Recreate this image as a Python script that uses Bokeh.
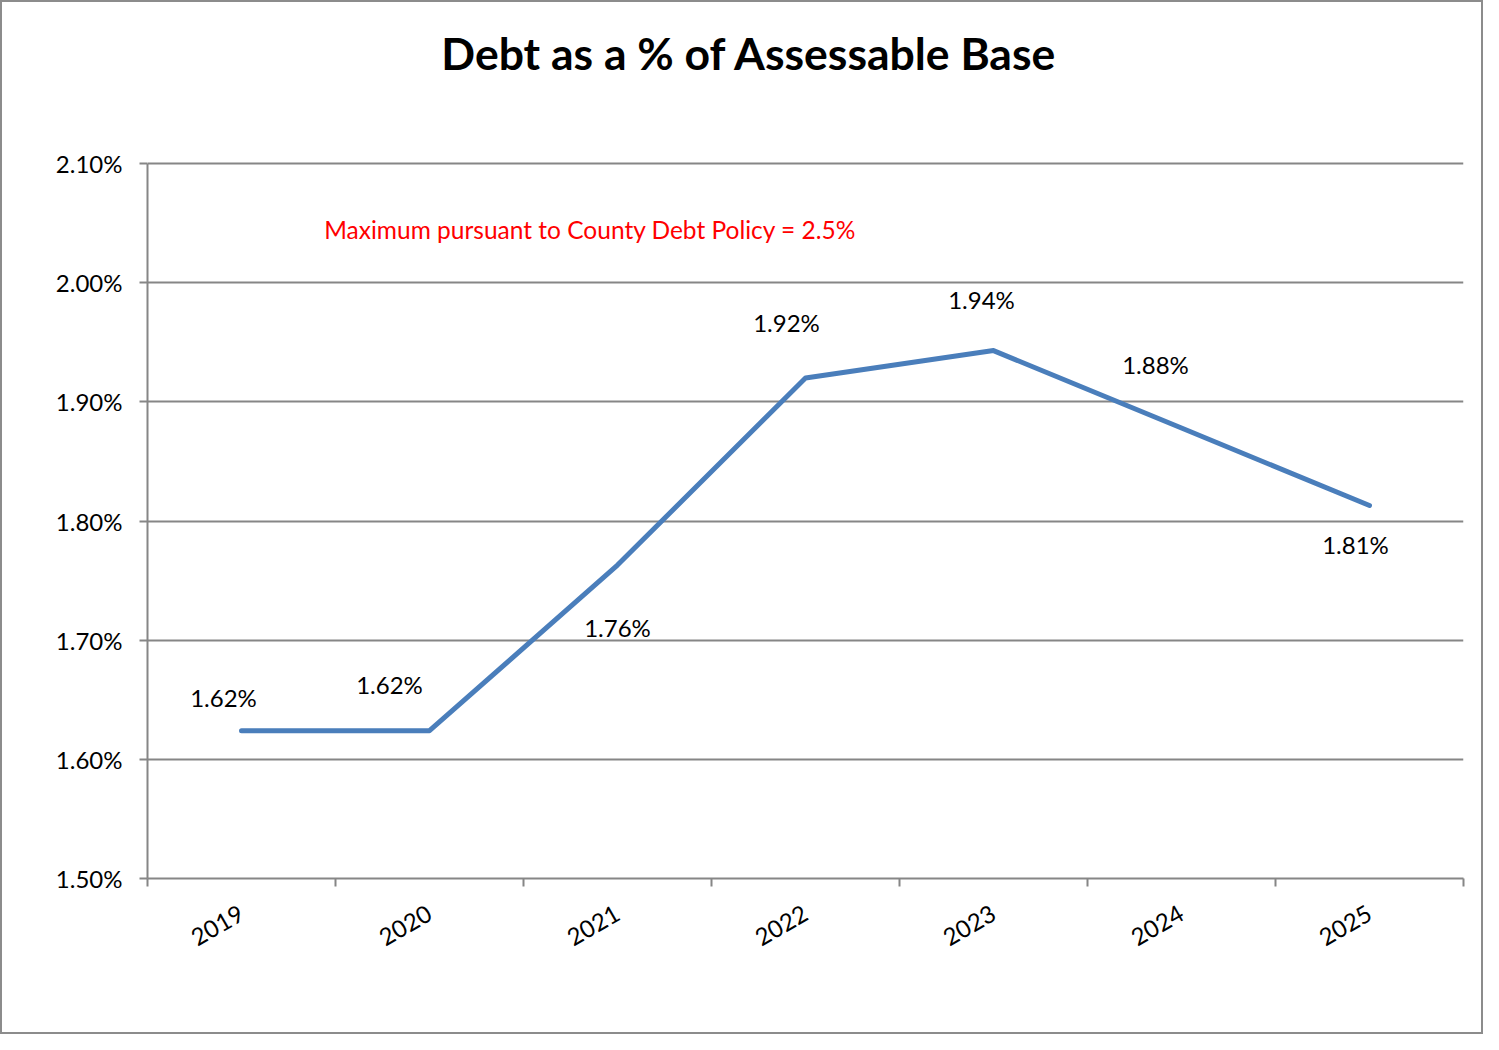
from bokeh.plotting import figure
from bokeh.models import Range1d, FixedTicker, PrintfTickFormatter, Label, ColumnDataSource
from bokeh.core.properties import value
from bokeh.embed import file_html
from bokeh.resources import INLINE
import math

# ---- data ----
years = ["2019", "2020", "2021", "2022", "2023", "2024", "2025"]
debt_pct = [1.624, 1.624, 1.763, 1.920, 1.943, 1.878, 1.813]
y_ticks = [1.50, 1.60, 1.70, 1.80, 1.90, 2.00, 2.10]
title_text = "Debt as a % of Assessable Base"
note_text = "Maximum pursuant to County Debt Policy = 2.5%"

# label offsets (pixels) for the data labels, as hand-placed in the original
label_dx = [-18, -40, 0, -19, -12, -26, -14]
label_dy = [-33, -46, 62, -56, -51, -64, 39]

FONT = "Lato"
GRAY = "#868686"

# layout (pixels): the plot frame is extended to the top of the canvas so the
# title can be drawn inside it; the axis area itself spans 1.50%..2.10%
W, H = 1483, 1034
AXIS_TOP_PX = 161      # canvas y of the 2.10% line
BOTTOM_BORDER = 158
axis_px = H - BOTTOM_BORDER - AXIS_TOP_PX
y_lo, y_hi = y_ticks[0], y_ticks[-1]
y_top = y_hi + (y_hi - y_lo) * AXIS_TOP_PX / axis_px

xs = [i + 0.5 for i in range(len(years))]

p = figure(width=W, height=H, output_backend="svg", toolbar_location=None,
           x_range=Range1d(0, len(years)), y_range=Range1d(y_lo, y_top),
           min_border_left=145, min_border_right=22, min_border_top=0,
           min_border_bottom=BOTTOM_BORDER)
p.styles = {"border": "2px solid #8c8c8c"}
p.outline_line_color = None
p.background_fill_color = "white"
p.border_fill_color = "white"
p.title.visible = False

# x axis
xa = p.xaxis[0]
xa.ticker = FixedTicker(ticks=xs, minor_ticks=list(range(len(years) + 1)))
xa.major_label_overrides = {x: y for x, y in zip(xs, years)}
xa.major_tick_out = 0
xa.major_tick_in = 0
xa.minor_tick_out = 8
xa.minor_tick_in = 0
xa.minor_tick_line_color = GRAY
xa.minor_tick_line_width = 2
xa.axis_line_color = GRAY
xa.axis_line_width = 2
xa.major_label_orientation = math.pi / 6
xa.major_label_text_font = FONT
xa.major_label_text_font_size = "24px"
xa.major_label_text_color = "black"
xa.major_label_standoff = 25

# y axis
ya = p.yaxis[0]
ya.ticker = FixedTicker(ticks=y_ticks)
ya.bounds = (y_lo, y_hi)
ya.formatter = PrintfTickFormatter(format="%.2f%%")
ya.major_tick_out = 8
ya.major_tick_in = 0
ya.minor_tick_line_color = None
ya.major_tick_line_color = GRAY
ya.major_tick_line_width = 2
ya.axis_line_color = GRAY
ya.axis_line_width = 2
ya.major_label_text_font = FONT
ya.major_label_text_font_size = "24px"
ya.major_label_text_color = "black"
ya.major_label_standoff = 17

p.xgrid.grid_line_color = None
p.ygrid.ticker = FixedTicker(ticks=y_ticks)
p.ygrid.grid_line_color = GRAY
p.ygrid.grid_line_width = 2

src = ColumnDataSource(dict(x=xs, y=debt_pct,
                            lbl=["%.2f%%" % v for v in debt_pct],
                            dx=label_dx, dy=label_dy))

p.line("x", "y", source=src, line_color="#4a7ebb", line_width=5,
       line_cap="round", line_join="round")

p.text("x", "y", text="lbl", source=src, x_offset="dx", y_offset="dy",
       text_font=value(FONT), text_font_size="24px", text_color="black",
       text_align="center", text_baseline="middle")

# chart title
p.add_layout(Label(x=3.202, y=2.1931, text=title_text, text_color="black",
                   text_font=FONT, text_font_size="44.5px", text_font_style="bold",
                   text_align="center", text_baseline="alphabetic"))

# red note
p.add_layout(Label(x=2.356, y=2.0446, text=note_text, text_color="#ff0000",
                   text_font=FONT, text_font_size="24.5px",
                   text_align="center", text_baseline="middle"))

open("out.html", "w").write(file_html(p, INLINE))
